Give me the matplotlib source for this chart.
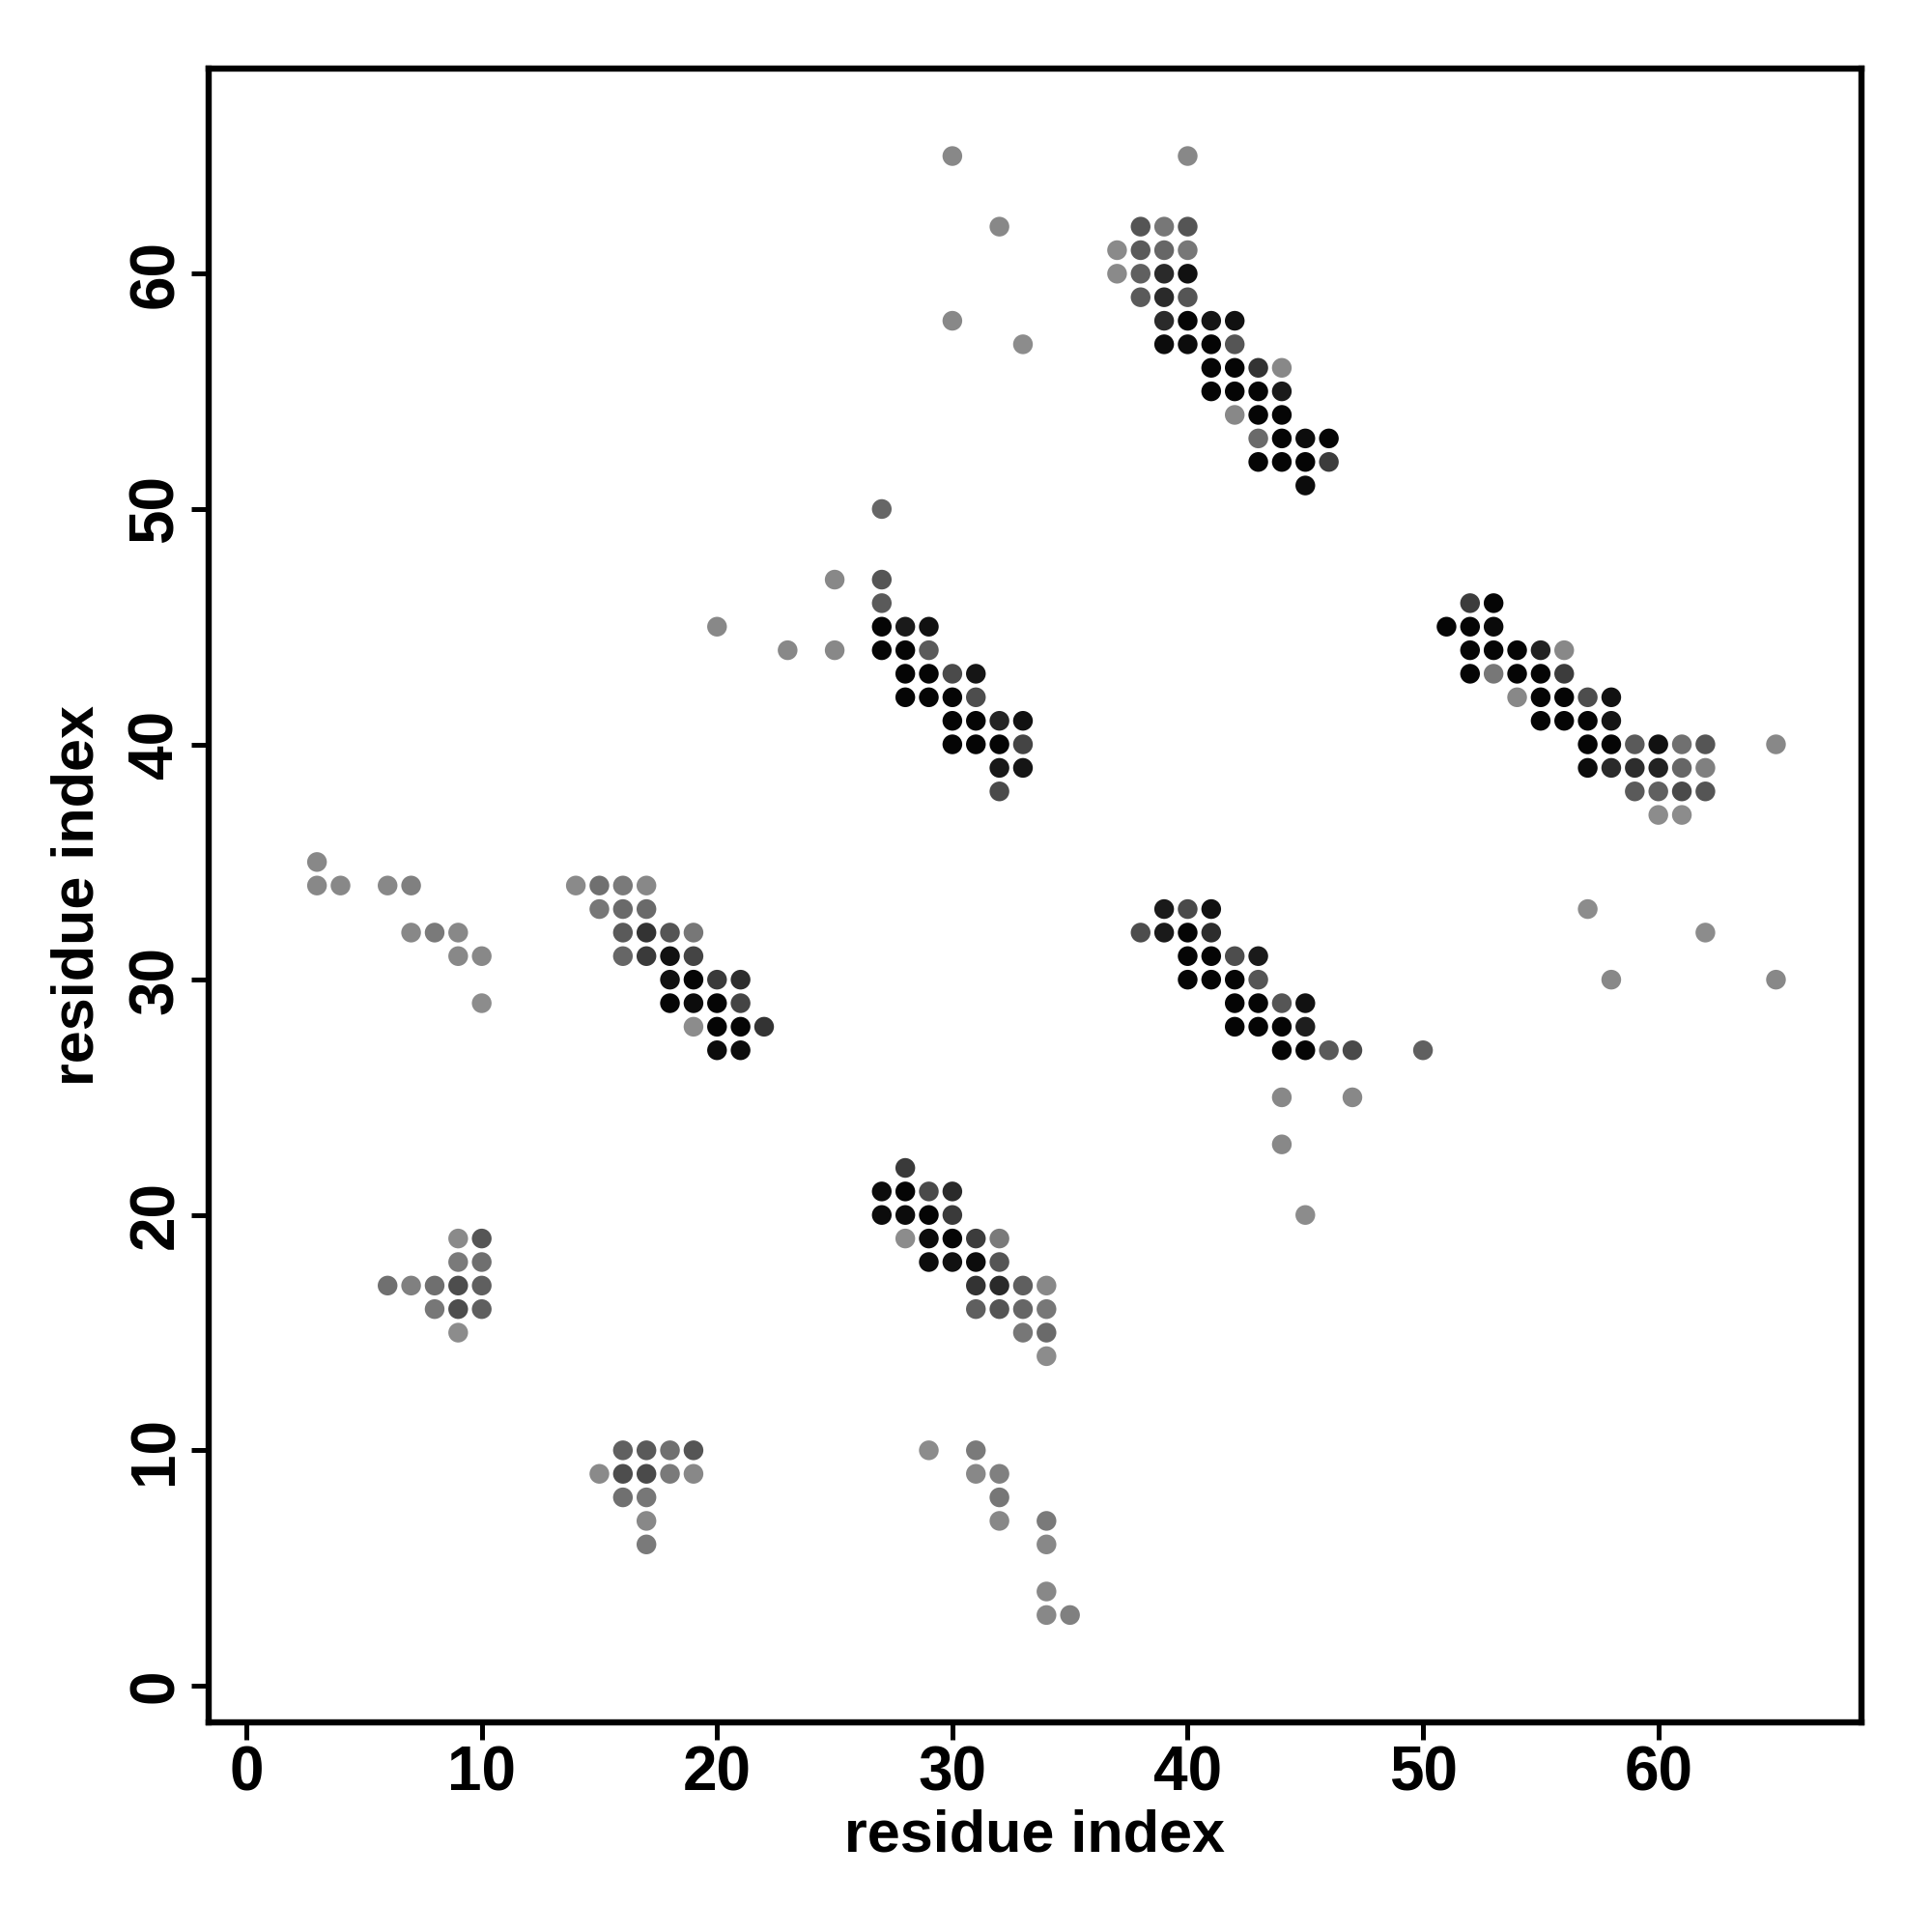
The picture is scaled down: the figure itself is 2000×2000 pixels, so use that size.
import numpy as np
import matplotlib
matplotlib.use("Agg")
import matplotlib.pyplot as plt

plt.rcParams['font.family'] = ['Liberation Sans', 'DejaVu Sans']
plt.rcParams['font.weight'] = 'bold'

# contact map: residue i, residue j, grey level of the dot (0 = black, 255 = white)
res_i = [30, 40,
         32, 38, 39, 40,
         37, 38, 39, 40,
         37, 38, 39, 40,
         38, 39, 40,
         30, 39, 40, 41, 42,
         33, 39, 40, 41, 42,
         41, 42, 43, 44,
         41, 42, 43, 44,
         42, 43, 44,
         43, 44, 45, 46,
         43, 44, 45, 46,
         45,
         # upper middle block
         27,
         25, 27,
         27,
         20, 27, 28, 29,
         23, 25, 27, 28, 29,
         28, 29, 30, 31,
         28, 29, 30, 31,
         30, 31, 32, 33,
         30, 31, 32, 33,
         32, 33,
         32,
         # right block
         52, 53,
         51, 52, 53,
         52, 53, 54, 55, 56,
         52, 53, 54, 55, 56,
         54, 55, 56, 57, 58,
         55, 56, 57, 58,
         57, 58, 59, 60, 61, 62, 65,
         57, 58, 59, 60, 61, 62,
         59, 60, 61, 62,
         60, 61,
         57, 62, 58, 65,
         # left blocks
         3, 3, 4, 6, 7,
         7, 8, 9, 9, 10, 10,
         14, 15, 16, 17,
         15, 16, 17,
         16, 17, 18, 19,
         16, 17, 18, 19,
         18, 19, 20, 21,
         18, 19, 20, 21,
         19, 20, 21, 22,
         20, 21,
         # centre block
         39, 40, 41,
         38, 39, 40, 41,
         40, 41, 42, 43,
         40, 41, 42, 43,
         42, 43, 44, 45,
         42, 43, 44, 45,
         44, 45, 46, 47, 50,
         44, 47, 44, 45,
         # lower middle block
         28,
         27, 28, 29, 30,
         27, 28, 29, 30,
         28, 29, 30, 31, 32,
         29, 30, 31, 32,
         31, 32, 33, 34,
         31, 32, 33, 34,
         33, 34,
         34,
         29, 31,
         31, 32,
         32,
         32, 34,
         34,
         34,
         34, 35,
         # lower left blocks
         9, 10,
         9, 10,
         6, 7, 8, 9, 10,
         8, 9, 10,
         9,
         16, 17, 18, 19,
         15, 16, 17, 18, 19,
         16, 17,
         17,
         17]

res_j = [65, 65,
         62, 62, 62, 62,
         61, 61, 61, 61,
         60, 60, 60, 60,
         59, 59, 59,
         58, 58, 58, 58, 58,
         57, 57, 57, 57, 57,
         56, 56, 56, 56,
         55, 55, 55, 55,
         54, 54, 54,
         53, 53, 53, 53,
         52, 52, 52, 52,
         51,
         50,
         47, 47,
         46,
         45, 45, 45, 45,
         44, 44, 44, 44, 44,
         43, 43, 43, 43,
         42, 42, 42, 42,
         41, 41, 41, 41,
         40, 40, 40, 40,
         39, 39,
         38,
         46, 46,
         45, 45, 45,
         44, 44, 44, 44, 44,
         43, 43, 43, 43, 43,
         42, 42, 42, 42, 42,
         41, 41, 41, 41,
         40, 40, 40, 40, 40, 40, 40,
         39, 39, 39, 39, 39, 39,
         38, 38, 38, 38,
         37, 37,
         33, 32, 30, 30,
         35, 34, 34, 34, 34,
         32, 32, 32, 31, 31, 29,
         34, 34, 34, 34,
         33, 33, 33,
         32, 32, 32, 32,
         31, 31, 31, 31,
         30, 30, 30, 30,
         29, 29, 29, 29,
         28, 28, 28, 28,
         27, 27,
         33, 33, 33,
         32, 32, 32, 32,
         31, 31, 31, 31,
         30, 30, 30, 30,
         29, 29, 29, 29,
         28, 28, 28, 28,
         27, 27, 27, 27, 27,
         25, 25, 23, 20,
         22,
         21, 21, 21, 21,
         20, 20, 20, 20,
         19, 19, 19, 19, 19,
         18, 18, 18, 18,
         17, 17, 17, 17,
         16, 16, 16, 16,
         15, 15,
         14,
         10, 10,
         9, 9,
         8,
         7, 7,
         6,
         4,
         3, 3,
         19, 19,
         18, 18,
         17, 17, 17, 17, 17,
         16, 16, 16,
         15,
         10, 10, 10, 10,
         9, 9, 9, 9, 9,
         8, 8,
         7,
         6]

grey = [136, 136,
        136, 85, 119, 85,
        138, 90, 102, 119,
        138, 96, 42, 17,
        90, 42, 85,
        136, 42, 5, 21, 17,
        140, 12, 12, 5, 85,
        5, 5, 51, 136,
        5, 5, 5, 26,
        136, 5, 5,
        106, 5, 12, 5,
        5, 5, 5, 60,
        12,
        102,
        136, 85,
        90,
        136, 5, 26, 17,
        136, 136, 5, 5, 90,
        5, 5, 74, 21,
        5, 5, 5, 77,
        5, 5, 37, 17,
        5, 5, 5, 68,
        24, 21,
        74,
        60, 5,
        5, 5, 10,
        5, 5, 5, 34, 136,
        5, 119, 5, 5, 60,
        136, 5, 5, 77, 17,
        5, 5, 5, 21,
        5, 5, 90, 17, 112, 85, 136,
        12, 42, 45, 34, 102, 128,
        90, 96, 74, 85,
        140, 140,
        140, 140, 136, 136,
        136, 136, 136, 136, 128,
        136, 122, 136, 136, 136, 140,
        138, 112, 122, 136,
        119, 106, 106,
        90, 51, 85, 119,
        102, 58, 17, 68,
        17, 5, 58, 45,
        5, 12, 5, 68,
        140, 5, 5, 51,
        12, 12,
        26, 74, 17,
        77, 26, 5, 45,
        5, 5, 77, 26,
        5, 5, 5, 85,
        5, 5, 85, 17,
        5, 5, 5, 30,
        5, 5, 90, 74, 96,
        136, 136, 136, 140,
        58,
        12, 5, 74, 42,
        12, 12, 5, 58,
        140, 12, 5, 60, 122,
        12, 17, 12, 85,
        51, 42, 95, 136,
        95, 85, 102, 119,
        119, 106,
        140,
        140, 122,
        136, 128,
        119,
        136, 122,
        136,
        136,
        136, 128,
        138, 85,
        122, 111,
        112, 128, 111, 77, 95,
        119, 77, 95,
        140,
        96, 90, 112, 85,
        138, 77, 74, 122, 136,
        112, 119,
        136,
        122]

ticks = [0, 10, 20, 30, 40, 50, 60]

colors = [(g / 255, g / 255, g / 255) for g in grey]

fig = plt.figure(figsize=(10, 10), dpi=200)
ax = fig.add_axes([0.1078, 0.1084, 0.8559, 0.8559])
ax.scatter(res_i, res_j, s=54, c=colors, linewidths=0)

ax.set_xlim(-1.62, 68.65)
ax.set_ylim(-1.57, 68.7)
ax.set_xticks(ticks)
ax.set_yticks(ticks)
for s in ax.spines.values():
    s.set_linewidth(2.3)
ax.tick_params(length=6.5, width=1.8, labelsize=23, pad=2)
for lab in ax.get_yticklabels():
    lab.set_rotation(90)
    lab.set_va('center')
ax.set_xlabel('residue index', fontsize=22, fontweight='bold', labelpad=2)
ax.set_ylabel('residue index', fontsize=22, fontweight='bold', labelpad=8)

fig.savefig('out.png', dpi=200)
